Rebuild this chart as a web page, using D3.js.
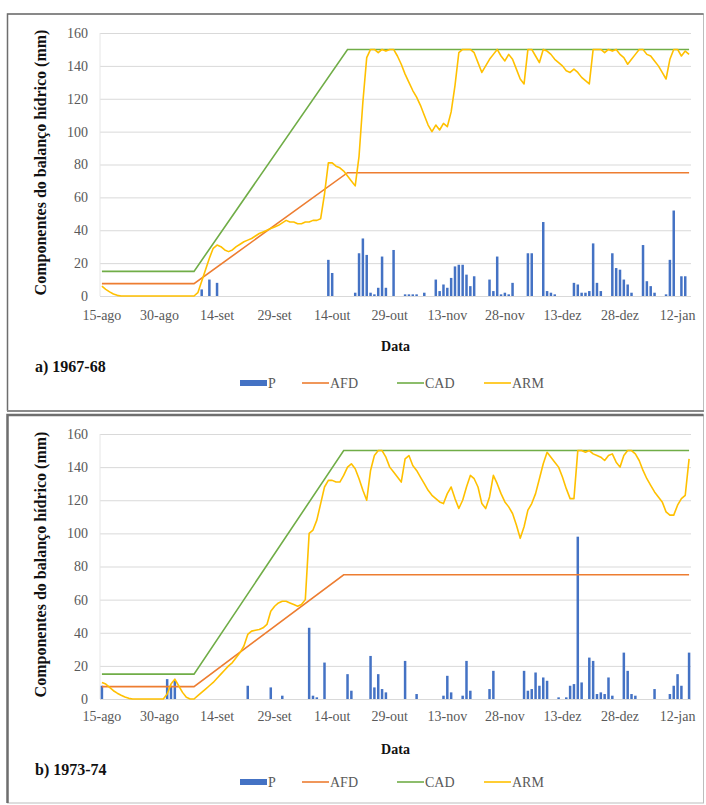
<!DOCTYPE html>
<html>
<head>
<meta charset="utf-8">
<script src="https://d3js.org/d3.v7.min.js"></script>
<style>
body {margin: 0; background: white;}
svg text {font-family: "Liberation Serif", "Times New Roman", serif;}
.tick text {fill: #595959; font-size: 14px;}
.grid line {stroke: #d9d9d9; stroke-width: 1;}
.legend text {fill: #595959; font-size: 14px;}
.bold {font-weight: bold; fill: #111;}
</style>
</head>
<body>
<svg width="706" height="805"></svg>
<script>
// one category per day, 15-ago .. 15-jan (154 days)
var nDays = 154;
var tickDays = [0, 15, 30, 45, 60, 75, 90, 105, 120, 135, 150];
var tickLabels = ["15-ago","30-ago","14-set","29-set","14-out","29-out","13-nov","28-nov","13-dez","28-dez","12-jan"];
var yTicks = [0, 20, 40, 60, 80, 100, 120, 140, 160];
var seriesNames = ["P", "AFD", "CAD", "ARM"];

// 1967-68
var pA = [
  0,0,0,0,0,0,0,0,0,0,
  0,0,0,0,0,0,0,0,0,0,
  0,0,0,0,0,0,4,0,10,0,
  8,0,0,0,0,0,0,0,0,0,
  0,0,0,0,0,0,0,0,0,0,
  0,0,0,0,0,0,0,0,0,22,
  14,0,0,0,0,0,2,26,35,25,
  2,1,5,24,5,0,28,0,0,1,
  1,1,1,0,2,0,0,10,3,7,
  5,11,18,19,19,13,6,12,0,0,
  0,10,3,24,1,2,1,8,0,0,
  0,26,26,0,0,45,3,2,1,0,
  0,0,0,8,7,2,2,3,32,8,
  3,0,0,26,17,16,10,7,2,0,
  0,31,9,6,2,0,0,1,22,52,
  0,12,12,0];
var armA = [
  6,4,2.5,1.2,0.4,0,0,0,0,0,
  0,0,0,0,0,0,0,0,0,0,
  0,0,0,0,0,2,9,16,23,29,
  31,30,28,27,28,30,31.5,33,34,35,
  36.5,38,39,40,41,42,43,44.5,46,45,
  45,44,44,45,45,46,46,47,62,81,
  81,79,78,76,73,70,67,85,118,145,
  150,150,148,150,149,150,150,146,141,135,
  130,125,121,116,110,104,100,104,101,105,
  103,112,128,148,150,150,150,148,142,136,
  140,144,147,150,146,143,147,144,138,132,
  129,150,150,146,142,150,149,147,144,142,
  140,137,136,138,136,133,131,129,150,150,
  150,148,150,149,150,147,145,141,144,147,
  150,150,147,146,143,140,136,132,144,150,
  150,146,149,147];
var limDaysA = [0, 24, 64, 153];
var cadA = [15, 15, 150, 150];
var afdA = [7.5, 7.5, 75, 75];

// 1973-74
var pB = [
  8,0,0,0,0,0,0,0,0,0,
  0,0,0,0,0,0,0,12,8,11,
  0,0,0,0,0,0,0,0,0,0,
  0,0,0,0,0,0,0,0,8,0,
  0,0,0,0,7,0,0,2,0,0,
  0,0,0,0,43,2,1,0,22,0,
  0,0,0,0,15,5,0,0,0,0,
  26,7,15,6,4,0,0,0,0,23,
  0,0,3,0,0,0,0,0,0,2,
  14,4,0,0,2,23,5,0,0,0,
  0,6,17,0,0,0,0,0,0,0,
  17,5,6,16,8,13,11,0,0,1,
  0,1,8,9,98,10,0,25,23,3,
  4,3,13,2,0,0,28,17,3,2,
  0,0,0,0,6,0,0,0,3,8,
  15,8,0,28];
var armB = [
  10,9,7,5,3.5,2.3,1.2,0.4,0,0,
  0,0,0,0,0,0,0,3,9,12,
  8,4,1,0,0,2,4,6,8,10,
  12.5,15,17.5,20,22,25,28,32,39,41,
  41.5,42,43,45,53,56,58,59,59,58,
  57,56,57,60,100,102,108,118,128,132,
  132,131,131,135,140,142,139,133,126,120,
  138,147,150,150,146,140,137,134,131,145,
  147,141,138,134,130,126,123,121,119,118,
  124,128,121,115,120,128,135,133,128,118,
  115,122,135,130,124,119,116,112,105,97,
  104,114,118,124,133,142,149,146,143,140,
  134,127,121,121,150,150,149,150,148,147,
  146,144,147,148,143,140,147,150,150,148,
  144,138,133,129,125,122,119,113,111,111,
  117,121,123,145];
var limDaysB = [0, 24, 63, 153];
var cadB = [15, 15, 150, 150];
var afdB = [7.5, 7.5, 75, 75];

var colors = {P: "#4472c4", AFD: "#ed7d31", CAD: "#70ad47", ARM: "#ffc000"};

var svg = d3.select("svg");
var plotLeft = 100, plotRight = 691;

var x = d3.scaleBand()
  .domain(d3.range(nDays))
  .range([plotLeft, plotRight])
  .paddingInner(0.35)
  .paddingOuter(0.175);

function cx(i) { return x(i) + x.bandwidth() / 2; }

function drawPanel(cfg) {
  var g = svg.append("g");
  var y = d3.scaleLinear().domain([0, 160]).range([cfg.base, cfg.top]);

  // frame
  g.append("rect")
    .attr("x", 7.5).attr("y", cfg.frameTop)
    .attr("width", 696).attr("height", cfg.frameBottom - cfg.frameTop)
    .attr("fill", "none").attr("stroke", "#bdbdbd").attr("stroke-width", 1);
  g.append("path")
    .attr("d", "M7.5," + cfg.frameBottom + "V" + cfg.frameTop + "H703.5")
    .attr("fill", "none").attr("stroke", "#6e6e6e").attr("stroke-width", cfg.frameW);
  if (cfg.id == "a") {
    g.append("line").attr("x1", 7).attr("x2", 704).attr("y1", cfg.frameBottom).attr("y2", cfg.frameBottom)
      .attr("stroke", "#8a8a8a").attr("stroke-width", 2);
  }

  // gridlines
  g.append("g").attr("class", "grid")
    .attr("transform", "translate(" + plotLeft + ",0)")
    .call(d3.axisLeft(y).tickValues(yTicks).tickSize(-(plotRight - plotLeft)).tickFormat(""))
    .call(function(s) { s.select(".domain").remove(); });
  g.append("line")
    .attr("x1", plotLeft).attr("x2", plotLeft)
    .attr("y1", cfg.top).attr("y2", cfg.base)
    .attr("stroke", "#e6e6e6");

  // y tick labels
  g.append("g")
    .attr("transform", "translate(" + plotLeft + ",0)")
    .call(d3.axisLeft(y).tickValues(yTicks).tickSize(0).tickPadding(12))
    .call(function(s) { s.select(".domain").remove(); });

  // x tick labels
  g.append("g")
    .attr("transform", "translate(0," + cfg.base + ")")
    .call(d3.axisBottom(x).tickValues(tickDays).tickSize(0).tickPadding(cfg.tickPad)
      .tickFormat(function(d) { return tickLabels[tickDays.indexOf(d)]; }))
    .call(function(s) { s.select(".domain").remove(); });

  // P bars
  g.append("g").selectAll("rect").data(cfg.p).enter().append("rect")
    .attr("x", function(d, i) { return x(i); })
    .attr("y", function(d) { return y(d); })
    .attr("width", x.bandwidth())
    .attr("height", function(d) { return cfg.base - y(d); })
    .attr("fill", colors.P);

  var lim = d3.line()
    .x(function(d, i) { return cx(cfg.limDays[i]); })
    .y(function(d) { return y(d); });
  var daily = d3.line()
    .x(function(d, i) { return cx(i); })
    .y(function(d) { return y(d); });

  g.append("path").attr("d", lim(cfg.afd))
    .attr("fill", "none").attr("stroke", colors.AFD).attr("stroke-width", 1.6);
  g.append("path").attr("d", lim(cfg.cad))
    .attr("fill", "none").attr("stroke", colors.CAD).attr("stroke-width", 1.6);
  g.append("path").attr("d", daily(cfg.arm))
    .attr("fill", "none").attr("stroke", colors.ARM).attr("stroke-width", 1.6)
    .attr("stroke-linejoin", "round");

  // axis titles
  g.append("text").attr("class", "bold")
    .attr("transform", "translate(46," + ((cfg.top + cfg.base) / 2 - 2) + ") rotate(-90)")
    .attr("text-anchor", "middle")
    .style("font-size", "16px")
    .text("Componentes do balanço hídrico (mm)");
  g.append("text").attr("class", "bold")
    .attr("x", (plotLeft + plotRight) / 2).attr("y", cfg.dataY)
    .attr("text-anchor", "middle")
    .style("font-size", "14px")
    .text("Data");
  g.append("text").attr("class", "bold")
    .attr("x", 35).attr("y", cfg.titleY)
    .style("font-size", "16px")
    .text(cfg.title);

  // legend
  var lg = g.append("g").attr("class", "legend")
    .attr("transform", "translate(0," + cfg.legY + ")");
  var legX = [240, 302, 397, 484];
  seriesNames.forEach(function(name, i) {
    if (name == "P") {
      lg.append("rect").attr("x", legX[i]).attr("y", -3).attr("width", 27).attr("height", 6)
        .attr("fill", colors.P);
    } else {
      lg.append("line").attr("x1", legX[i]).attr("x2", legX[i] + 27)
        .attr("y1", 0).attr("y2", 0)
        .attr("stroke", colors[name]).attr("stroke-width", 1.6);
    }
    lg.append("text").attr("x", legX[i] + 28).attr("y", 5).text(name);
  });
}

drawPanel({id: "a", title: "a) 1967-68", p: pA, arm: armA, limDays: limDaysA, cad: cadA, afd: afdA,
  top: 33, base: 296, frameTop: 14, frameBottom: 411, frameW: 1.5,
  tickPad: 14, dataY: 351, titleY: 372, legY: 383});
drawPanel({id: "b", title: "b) 1973-74", p: pB, arm: armB, limDays: limDaysB, cad: cadB, afd: afdB,
  top: 434, base: 699, frameTop: 415, frameBottom: 803, frameW: 2.5,
  tickPad: 12, dataY: 754, titleY: 775, legY: 782});
</script>
</body>
</html>
